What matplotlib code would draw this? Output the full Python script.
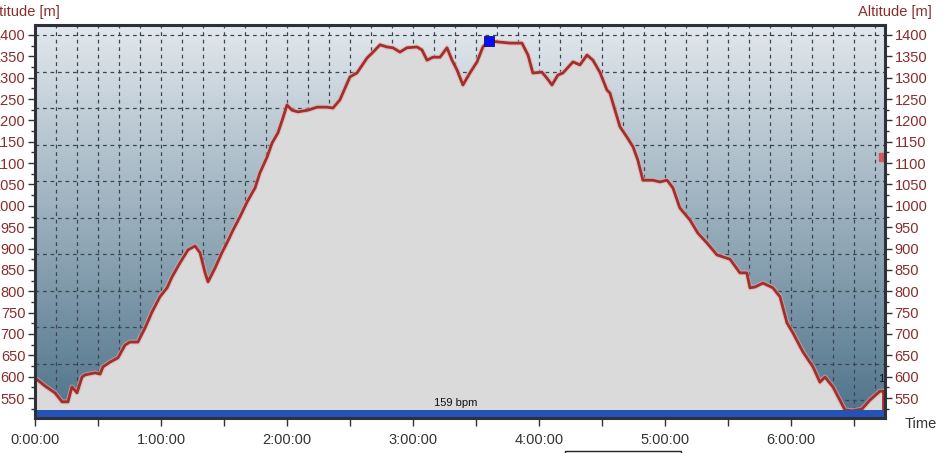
import numpy as np
import matplotlib
matplotlib.use("Agg")
import matplotlib.pyplot as plt
from matplotlib.patches import Rectangle
from matplotlib.ticker import MultipleLocator, FuncFormatter

plt.rcParams['font.family'] = ['Liberation Sans', 'DejaVu Sans']

# ---- data ----
time_min = [0, 4.8, 9.5, 12.9, 15.7, 17.6, 20.0, 22.4, 23.8, 28.6, 31.0, 32.4, 35.7, 39.5,
            42.9, 45.2, 49.0, 52.4, 55.7, 59.5, 62.9, 65.2, 69.0, 72.9, 76.2, 78.6, 81.0,
            82.4, 85.7, 89.0, 91.4, 94.3, 97.6, 101.0, 104.8, 107.1, 110.5, 112.9, 115.7,
            118.1, 120.0, 122.4, 125.2, 130.0, 134.3, 139.0, 141.9, 145.2, 150.0, 153.3,
            158.1, 161.0, 164.3, 167.6, 170.5, 173.8, 177.1, 181.9, 184.3, 186.7, 189.5,
            192.9, 196.2, 198.6, 201.0, 203.8, 207.1, 210.5, 213.3, 216.2, 220.0, 226.2,
            231.9, 234.8, 237.1, 241.4, 243.8, 246.2, 249.0, 251.4, 256.2, 259.5, 262.9,
            265.7, 269.0, 272.4, 273.8, 276.2, 278.6, 281.9, 284.8, 287.1, 289.5, 294.3,
            297.6, 301.0, 303.8, 307.1, 311.9, 315.7, 320.0, 324.8, 331.0, 335.7, 339.0,
            340.5, 342.9, 346.7, 351.4, 354.8, 358.1, 361.0, 365.7, 370.5, 373.8, 376.2,
            380.0, 383.3, 385.7, 389.5, 393.8, 397.6, 402.4, 403.8]
altitude_m = [597, 578, 562, 541, 541, 576, 562, 599, 604, 609, 606, 623, 634, 644,
              674, 681, 681, 714, 751, 787, 808, 833, 866, 897, 906, 890, 843,
              822, 854, 890, 913, 943, 974, 1009, 1042, 1077, 1114, 1147, 1171,
              1206, 1236, 1224, 1220, 1224, 1231, 1231, 1229, 1248, 1302, 1311,
              1346, 1360, 1377, 1372, 1370, 1360, 1370, 1372, 1365, 1341, 1348,
              1348, 1370, 1341, 1318, 1283, 1311, 1337, 1372, 1386, 1384, 1381,
              1381, 1353, 1311, 1313, 1299, 1283, 1306, 1311, 1337, 1330, 1353,
              1341, 1313, 1271, 1264, 1224, 1185, 1161, 1138, 1107, 1060, 1060,
              1056, 1060, 1042, 995, 967, 936, 913, 885, 875, 843, 843,
              808, 810, 819, 808, 787, 726, 702, 658, 623, 587, 599,
              576, 545, 522, 520, 524, 545, 566, 566]
heart_rate_bpm = 159
max_point = (216.2, 1386)
hour_labels = ["0:00:00", "1:00:00", "2:00:00", "3:00:00", "4:00:00", "5:00:00", "6:00:00"]

t = np.array(time_min)
alt = np.array(altitude_m)

W, H = 943, 453
fig = plt.figure(figsize=(W / 100, H / 100), dpi=100)
fig.patch.set_facecolor('white')
ax = fig.add_axes([35 / W, 35 / H, 850 / W, 393 / H])

ymin, ymax = 503.2, 1423.4
xmax = 404.8
ax.set_xlim(0, xmax)
ax.set_ylim(ymin, ymax)

# gradient background
top = np.array([226, 232, 237]) / 255
bot = np.array([78, 115, 138]) / 255
f = np.linspace(0, 1, 256)[:, None]
grad = (top[None, :] * (1 - f) + bot[None, :] * f)[:, None, :]
ax.imshow(grad, extent=[0, 1, 0, 1], transform=ax.transAxes, aspect='auto',
          zorder=0, interpolation='bilinear')

# grid (dashed)
gcol = '#3c4650'
for m in np.arange(10, xmax, 10):
    ax.axvline(m, color=gcol, lw=0.9, ls=(0, (3, 3)), zorder=1)
for k in range(11):
    ax.axhline(1400 - 85.5 * k, color=gcol, lw=0.9, ls=(0, (3, 3)), zorder=1)

# altitude area
ax.fill_between(t, alt, ymin, color='#dadada', zorder=2, lw=0)
ax.plot(t, alt, color='#e8a8a8', lw=3.6, alpha=0.6, zorder=3, solid_joinstyle='round')
ax.plot(t, alt, color='#a0302c', lw=2.0, zorder=4, solid_joinstyle='round')
ax.plot([t[-1], t[-1]], [alt[-1], ymin], color='#a0302c', lw=2.0, zorder=4)

# heart-rate band
ax.fill_between([0, xmax], 0, 0.021, transform=ax.get_xaxis_transform(),
                color='#2452b6', zorder=5, lw=0)
ax.text(0.4945, 0.0385, f"{heart_rate_bpm} bpm", transform=ax.transAxes,
        ha='center', va='center', fontsize=8, color='#111111', zorder=6)

# max marker
ax.plot([max_point[0]], [max_point[1]], marker='s', ms=7.5, color='#0a0aff',
        mec='#101060', mew=0.6, zorder=7, clip_on=False)
# red marker at right edge
ax.add_patch(Rectangle((0.9935, (1114 - ymin) / (ymax - ymin) - 0.011), 0.006, 0.022,
                       transform=ax.transAxes, color='#d25a5a', zorder=7, clip_on=False))
ax.text(0.995, 0.10, "1", transform=ax.transAxes, ha='center', va='center',
        fontsize=8, color='#111111', zorder=7)

# spines
for s in ax.spines.values():
    s.set_color('#2e3238')
    s.set_linewidth(2.2)
    s.set_zorder(8)

# y ticks both sides
ax.yaxis.set_major_locator(MultipleLocator(50))
ax.yaxis.set_minor_locator(MultipleLocator(25))
ax.set_ylim(ymin, ymax)
ax.tick_params(axis='y', which='major', left=True, right=True, labelleft=True,
               labelright=True, length=5, width=1, color='#2e3238',
               labelsize=10.5, labelcolor='#8b2c2c', pad=2)
ax.tick_params(axis='y', which='minor', left=True, right=True, length=3, width=1,
               color='#2e3238')

# x ticks
ax.xaxis.set_major_locator(MultipleLocator(30))
ax.xaxis.set_major_formatter(FuncFormatter(
    lambda v, p: hour_labels[int(round(v / 60))] if abs(v % 60) < 1e-6 and int(round(v / 60)) < len(hour_labels) else ""))
ax.tick_params(axis='x', which='major', length=6, width=1, color='#2e3238',
               labelsize=10.5, labelcolor='#333333', pad=5)

# axis titles
fig.text(-14 / W, 1 - 12 / H, "Altitude [m]", ha='left', va='center',
         fontsize=10.5, color='#8b2c2c')
fig.text(932 / W, 1 - 12 / H, "Altitude [m]", ha='right', va='center',
         fontsize=10.5, color='#8b2c2c')
fig.text(905 / W, 1 - 424 / H, "Time", ha='left', va='center',
         fontsize=10.5, color='#333333')

# partial legend box at bottom
fig.patches.append(Rectangle((565 / W, -5 / H), 116 / W, 7 / H, transform=fig.transFigure,
                             fill=False, ec='#222222', lw=1))

fig.savefig("out.png", dpi=100)
